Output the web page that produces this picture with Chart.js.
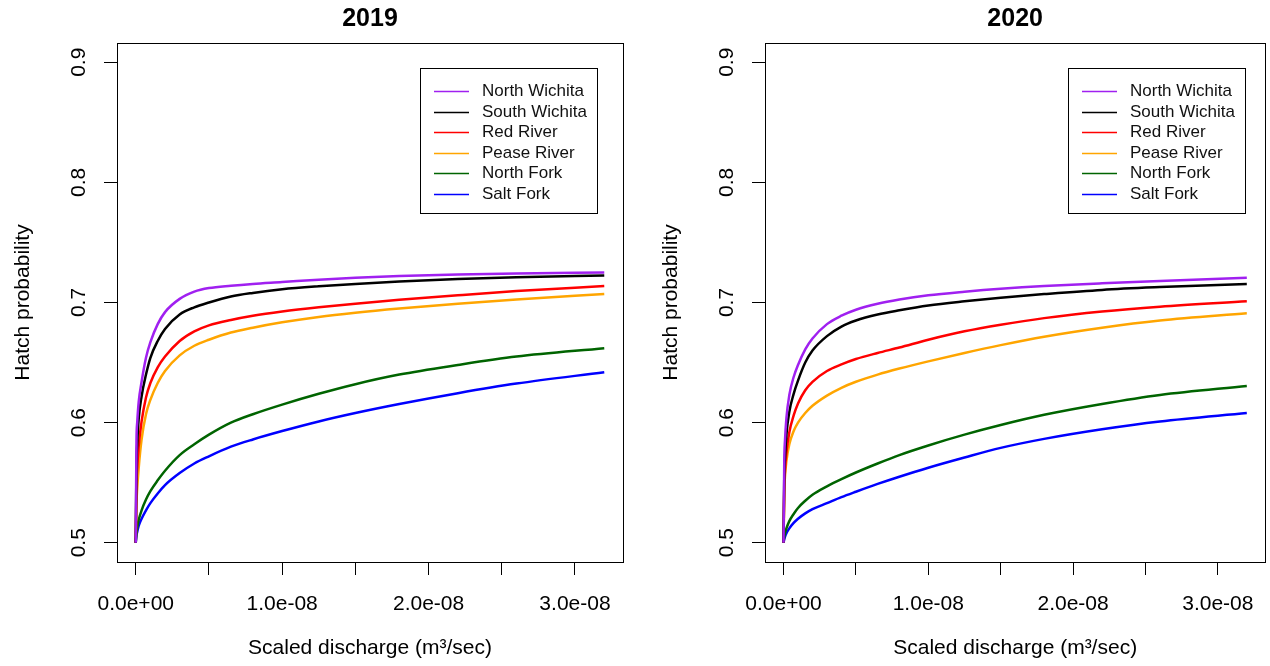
<!DOCTYPE html>
<html>
<head>
<meta charset="utf-8">
<script src="https://cdn.jsdelivr.net/npm/chart.js@4.4.0/dist/chart.umd.min.js"></script>
<style>
  body { margin: 0; background: #fff; }
  #wrap { position: relative; width: 1270px; height: 666px; overflow: hidden; background: #fff; }
  canvas { position: absolute; top: 0; }
</style>
</head>
<body>
<div id="wrap">
  <canvas id="chart2019" width="648" height="666" style="left:0"></canvas>
  <canvas id="chart2020" width="623" height="666" style="left:648px"></canvas>
</div>
<script>
// rivers + colours (same order as the legend)
const rivers = ["North Wichita", "South Wichita", "Red River", "Pease River", "North Fork", "Salt Fork"];
const riverColors = ["#A020F0", "#000000", "#FF0000", "#FFA500", "#006400", "#0000FF"];

// scaled discharge (m3/sec)
const discharge = [0, 0.005e-8, 0.01e-8, 0.02e-8, 0.04e-8, 0.07e-8, 0.1e-8, 0.15e-8, 0.2e-8, 0.3e-8, 0.4e-8,
  0.5e-8, 0.65e-8, 0.8e-8, 1.0e-8, 1.25e-8, 1.5e-8, 1.8e-8, 2.2e-8, 2.6e-8, 3.2e-8];

// hatch probability, 2019
const nw2019 = [0.5, 0.585, 0.600, 0.617, 0.634, 0.654, 0.667, 0.682, 0.692, 0.703, 0.709,
  0.712, 0.714, 0.7155, 0.717, 0.719, 0.7205, 0.722, 0.7233, 0.7242, 0.725];
const sw2019 = [0.5, 0.565, 0.582, 0.603, 0.622, 0.640, 0.654, 0.668, 0.678, 0.690, 0.696,
  0.700, 0.705, 0.708, 0.711, 0.7135, 0.7155, 0.7175, 0.7195, 0.721, 0.7225];
const red2019 = [0.5, 0.548, 0.562, 0.580, 0.601, 0.621, 0.633, 0.646, 0.655, 0.668, 0.676,
  0.681, 0.6855, 0.689, 0.6925, 0.696, 0.699, 0.7022, 0.706, 0.7095, 0.7137];
const pease2019 = [0.5, 0.533, 0.545, 0.562, 0.586, 0.607, 0.619, 0.633, 0.643, 0.656, 0.664,
  0.669, 0.675, 0.679, 0.6835, 0.688, 0.6915, 0.695, 0.699, 0.7025, 0.707];
const nf2019 = [0.5, 0.508, 0.513, 0.519, 0.527, 0.536, 0.543, 0.552, 0.560, 0.573, 0.582,
  0.590, 0.600, 0.607, 0.615, 0.624, 0.632, 0.640, 0.648, 0.655, 0.662];
const sf2019 = [0.5, 0.506, 0.509, 0.514, 0.520, 0.527, 0.533, 0.541, 0.548, 0.558, 0.566,
  0.572, 0.580, 0.586, 0.593, 0.601, 0.608, 0.6155, 0.6245, 0.6325, 0.642];

// hatch probability, 2020
const nw2020 = [0.5, 0.568, 0.585, 0.604, 0.623, 0.638, 0.648, 0.661, 0.670, 0.682, 0.689,
  0.694, 0.699, 0.7025, 0.706, 0.709, 0.7115, 0.7138, 0.716, 0.7178, 0.7205];
const sw2020 = [0.5, 0.555, 0.571, 0.590, 0.609, 0.624, 0.635, 0.650, 0.660, 0.672, 0.680,
  0.685, 0.690, 0.6935, 0.6975, 0.701, 0.704, 0.707, 0.7105, 0.7128, 0.7155];
const red2020 = [0.5, 0.546, 0.560, 0.575, 0.592, 0.606, 0.616, 0.627, 0.634, 0.643, 0.6485,
  0.653, 0.658, 0.6625, 0.669, 0.676, 0.6815, 0.687, 0.6925, 0.6965, 0.701];
const pease2020 = [0.5, 0.542, 0.555, 0.568, 0.582, 0.593, 0.600, 0.608, 0.614, 0.6225, 0.629,
  0.634, 0.640, 0.645, 0.651, 0.658, 0.6645, 0.6715, 0.679, 0.685, 0.691];
const nf2020 = [0.5, 0.505, 0.508, 0.512, 0.518, 0.524, 0.529, 0.535, 0.540, 0.547, 0.553,
  0.5585, 0.566, 0.573, 0.581, 0.590, 0.598, 0.6065, 0.6155, 0.623, 0.6305];
const sf2020 = [0.5, 0.503, 0.505, 0.508, 0.512, 0.5165, 0.520, 0.5245, 0.528, 0.533, 0.538,
  0.5425, 0.549, 0.555, 0.5625, 0.571, 0.579, 0.5865, 0.5945, 0.601, 0.608];

// axes
const xTicks = [0, 0.5e-8, 1e-8, 1.5e-8, 2e-8, 2.5e-8, 3e-8];
const xTickLabels = ["0.0e+00", "", "1.0e-08", "", "2.0e-08", "", "3.0e-08"];
const yTicks = [0.5, 0.6, 0.7, 0.8, 0.9];
const yTickLabels = ["0.5", "0.6", "0.7", "0.8", "0.9"];

const FONT = '"Liberation Sans", Arial, sans-serif';

// box round the plot + the legend inside it
const framePlugin = {
  id: "frame",
  afterDraw(chart) {
    const ctx = chart.ctx;
    const a = chart.chartArea;
    let x1 = Math.round(a.left) + 0.5, y1 = Math.round(a.top) + 0.5;
    let x2 = Math.min(Math.round(a.right) + 0.5, chart.width - 1.5);
    let y2 = Math.round(a.bottom) + 0.5;
    ctx.save();
    ctx.strokeStyle = "#000";
    ctx.lineWidth = 1;
    ctx.strokeRect(x1, y1, x2 - x1, y2 - y1);

    let lx = Math.round(a.left) + 303, ly = Math.round(a.top) + 25;
    ctx.fillStyle = "#fff";
    ctx.fillRect(lx, ly, 177, 145);
    ctx.strokeRect(lx + 0.5, ly + 0.5, 177, 145);
    ctx.font = "17px " + FONT;
    ctx.textBaseline = "middle";
    chart.data.datasets.forEach((ds, i) => {
      let y = Math.round(ly + 23 + i * 20.5) + 0.5;
      ctx.strokeStyle = ds.borderColor;
      ctx.lineWidth = 1.5;
      ctx.beginPath();
      ctx.moveTo(lx + 14, y);
      ctx.lineTo(lx + 49, y);
      ctx.stroke();
      ctx.fillStyle = "#111";
      ctx.fillText(ds.label, lx + 62, y);
    });
    ctx.restore();
  }
};

function makeChart(id, year, series, padRight) {
  return new Chart(document.getElementById(id), {
    type: "line",
    data: {
      datasets: series.map((vals, i) => ({
        label: rivers[i],
        data: vals.map((v, j) => ({ x: discharge[j], y: v })),
        borderColor: riverColors[i],
        borderWidth: 2.5,
        pointRadius: 0,
        cubicInterpolationMode: "monotone",
        fill: false
      }))
    },
    options: {
      responsive: false,
      animation: false,
      devicePixelRatio: 1,
      layout: { padding: { left: 0, right: padRight, top: 0, bottom: 0 } },
      plugins: {
        legend: { display: false },
        tooltip: { enabled: false },
        title: {
          display: true, text: year, fullSize: false, color: "#000",
          font: { family: FONT, size: 25, weight: "bold" },
          padding: { top: 4, bottom: 9 }
        }
      },
      scales: {
        x: {
          type: "linear",
          min: -0.128e-8,
          max: 3.328e-8,
          afterBuildTicks: (s) => { s.ticks = xTicks.map(v => ({ value: v })); },
          afterFit: (s) => { s.height = 104; },
          border: { display: false },
          grid: { drawOnChartArea: false, drawTicks: true, tickLength: 13, color: "#000", lineWidth: 1 },
          ticks: {
            callback: (v, i) => xTickLabels[i],
            autoSkip: false, maxRotation: 0, padding: 17, color: "#000",
            font: { family: FONT, size: 21 }
          },
          title: {
            display: true, text: "Scaled discharge (m³/sec)", color: "#000",
            font: { family: FONT, size: 21 }, padding: { top: 0, bottom: 5 }
          }
        },
        y: {
          type: "linear",
          min: 0.484,
          max: 0.916,
          afterBuildTicks: (s) => { s.ticks = yTicks.map(v => ({ value: v })); },
          afterFit: (s) => { s.width = 117; },
          border: { display: false },
          grid: { drawOnChartArea: false, drawTicks: true, tickLength: 13, color: "#000", lineWidth: 1 },
          ticks: {
            callback: (v, i) => yTickLabels[i],
            minRotation: 90, maxRotation: 90, crossAlign: "center",
            padding: 10, color: "#000",
            font: { family: FONT, size: 21 }
          },
          title: {
            display: true, text: "Hatch probability", color: "#000",
            font: { family: FONT, size: 21 }, padding: { top: 11, bottom: 0 }
          }
        }
      }
    },
    plugins: [framePlugin]
  });
}

makeChart("chart2019", "2019", [nw2019, sw2019, red2019, pease2019, nf2019, sf2019], 25);
makeChart("chart2020", "2020", [nw2020, sw2020, red2020, pease2020, nf2020, sf2020], 0);
</script>
</body>
</html>
